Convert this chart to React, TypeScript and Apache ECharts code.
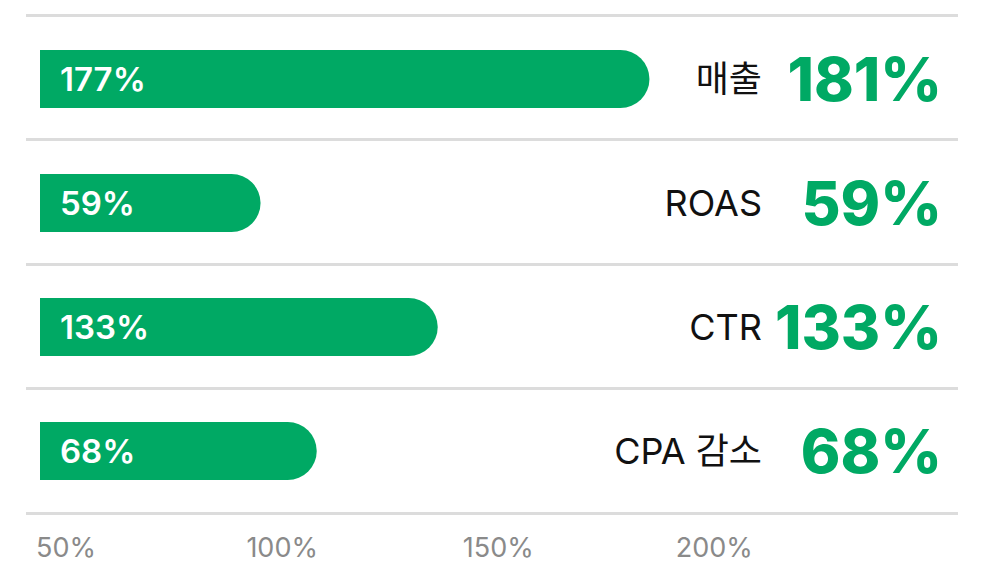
import React, { useEffect, useRef } from 'react';
import * as echarts from 'echarts';

// Categories (top to bottom)
const categories = ['매출', 'ROAS', 'CTR', 'CPA 감소'];
// Bar ends as read against the bottom % axis
const barValues = [185, 95, 136, 108];
// Labels written inside the bars
const barLabels = [177, 59, 133, 68];
// Big green figures on the right
const totals = [181, 59, 133, 68];
// Bottom axis tick labels
const tickValues = [50, 100, 150, 200];

const GREEN = '#00A964';
const FONT = 'Inter, "Noto Sans CJK KR", sans-serif';

export default function App() {
  const ref = useRef<HTMLDivElement>(null);
  useEffect(() => {
    const chart = echarts.init(ref.current!, null, { renderer: 'svg' });
    chart.setOption({
      animation: false,
      backgroundColor: '#ffffff',
      grid: [
        { left: 40, right: 44, top: 17, bottom: 50 },
        { left: 26, right: 44, top: 15, bottom: 50 },
      ],
      xAxis: [
        {
          type: 'value',
          gridIndex: 0,
          min: 43.96,
          max: 256.4,
          axisLine: { show: false },
          axisTick: { show: false },
          splitLine: { show: false },
          axisLabel: {
            customValues: tickValues,
            formatter: (v: number) => (tickValues.includes(v) ? v + '%' : ''),
            color: '#8a8a8a',
            fontSize: 27,
            fontFamily: FONT,
            margin: 21,
          },
        },
        { type: 'value', gridIndex: 1, show: false },
      ],
      yAxis: [
        {
          type: 'category',
          gridIndex: 0,
          data: categories,
          inverse: true,
          position: 'right',
          axisLine: { show: false },
          axisTick: { show: false },
          splitLine: { show: false },
          axisLabel: {
            inside: true,
            margin: 16,
            formatter: (v: string, i: number) => `{n|${v}}{p|${totals[i]}%}`,
            rich: {
              n: {
                fontSize: 36,
                color: '#111111',
                fontFamily: FONT,
                align: 'right',
                verticalAlign: 'middle',
              },
              p: {
                fontSize: 60,
                fontWeight: 800,
                color: GREEN,
                fontFamily: FONT,
                width: 180,
                align: 'right',
                verticalAlign: 'middle',
              },
            },
          },
        },
        {
          type: 'category',
          gridIndex: 1,
          data: categories,
          inverse: true,
          axisLine: { show: false },
          axisTick: { show: false },
          axisLabel: { show: false },
          splitLine: { show: true, lineStyle: { color: '#dcdcdc', width: 3 } },
        },
      ],
      series: [
        {
          type: 'bar',
          xAxisIndex: 0,
          yAxisIndex: 0,
          data: barValues,
          barWidth: 58,
          clip: true,
          itemStyle: { color: GREEN, borderRadius: [0, 29, 29, 0] },
          label: {
            show: true,
            position: 'insideLeft',
            distance: 20,
            formatter: (p: any) => barLabels[p.dataIndex] + '%',
            color: '#ffffff',
            fontSize: 33,
            fontWeight: 600,
            fontFamily: FONT,
          },
        },
      ],
    });
    return () => chart.dispose();
  }, []);
  return (
    <div
      ref={ref}
      style={{ position: 'fixed', left: 0, top: 0, width: 1002, height: 563 }}
    />
  );
}
